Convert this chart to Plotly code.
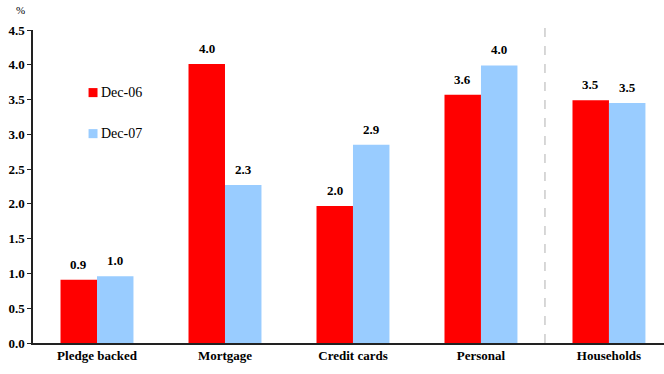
import plotly.graph_objects as go

categories = ["Pledge backed", "Mortgage", "Credit cards", "Personal", "Households"]
dec06 = [0.91, 4.01, 1.97, 3.57, 3.49]
dec07 = [0.96, 2.27, 2.85, 3.99, 3.45]
series_names = ["Dec-06", "Dec-07"]
colors = ["#ff0000", "#99ccff"]
y_ticks = [0.0, 0.5, 1.0, 1.5, 2.0, 2.5, 3.0, 3.5, 4.0, 4.5]

FONT = "Liberation Serif"
x = list(range(len(categories)))

fig = go.Figure()
for name, vals, col in zip(series_names, [dec06, dec07], colors):
    fig.add_trace(go.Bar(x=x, y=vals, name=name, marker=dict(color=col, line=dict(width=0)),
                         showlegend=False))

# value labels above each bar
offsets = [-0.143, 0.143]
for vals, off in zip([dec06, dec07], offsets):
    for xi, v in zip(x, vals):
        fig.add_annotation(x=xi + off, y=v, text=f"<b>{v:.1f}</b>", showarrow=False,
                           yanchor="bottom", yshift=6,
                           font=dict(family=FONT, size=13, color="black"))

# separator between components and total
fig.add_shape(type="line", x0=3.5, x1=3.5, y0=0, y1=1.013, xref="x", yref="paper",
              line=dict(color="#b0b0b0", width=1, dash="dash"))

# legend drawn as swatches with labels
leg_y = [3.6, 3.01]
for name, col, ly in zip(series_names, colors, leg_y):
    fig.add_shape(type="rect", x0=-0.066, x1=0.004, y0=ly - 0.065, y1=ly + 0.065,
                  xref="x", yref="y", fillcolor=col, line=dict(width=0))
    fig.add_annotation(x=0.015, y=ly, text=name, showarrow=False, xanchor="left",
                       font=dict(family=FONT, size=14, color="black"))

# unit label
fig.add_annotation(x=-0.03, y=1.065, xref="paper", yref="paper", text="%", showarrow=False,
                   xanchor="left", yanchor="middle", font=dict(family=FONT, size=11, color="black"))

fig.update_layout(
    template="none",
    width=664, height=374,
    margin=dict(l=33, r=0, t=30, b=31),
    paper_bgcolor="white", plot_bgcolor="white",
    barmode="group", bargap=0.43, bargroupgap=0,
)
fig.update_xaxes(
    range=[-0.5, 4.43], tickvals=x, ticktext=[f"<b>{c}</b>" for c in categories],
    showline=True, linecolor="#222", linewidth=1.5, ticks="", showgrid=False, zeroline=False,
    tickfont=dict(family=FONT, size=13, color="black"),
)
fig.update_yaxes(
    range=[0, 4.5], tickvals=y_ticks, ticktext=[f"<b>{t:.1f}</b>" for t in y_ticks],
    showline=True, linecolor="#222", linewidth=1.5, ticks="outside", ticklen=4,
    tickcolor="#222", showgrid=False, zeroline=False,
    tickfont=dict(family=FONT, size=13, color="black"),
)

fig.write_html("out.html")
